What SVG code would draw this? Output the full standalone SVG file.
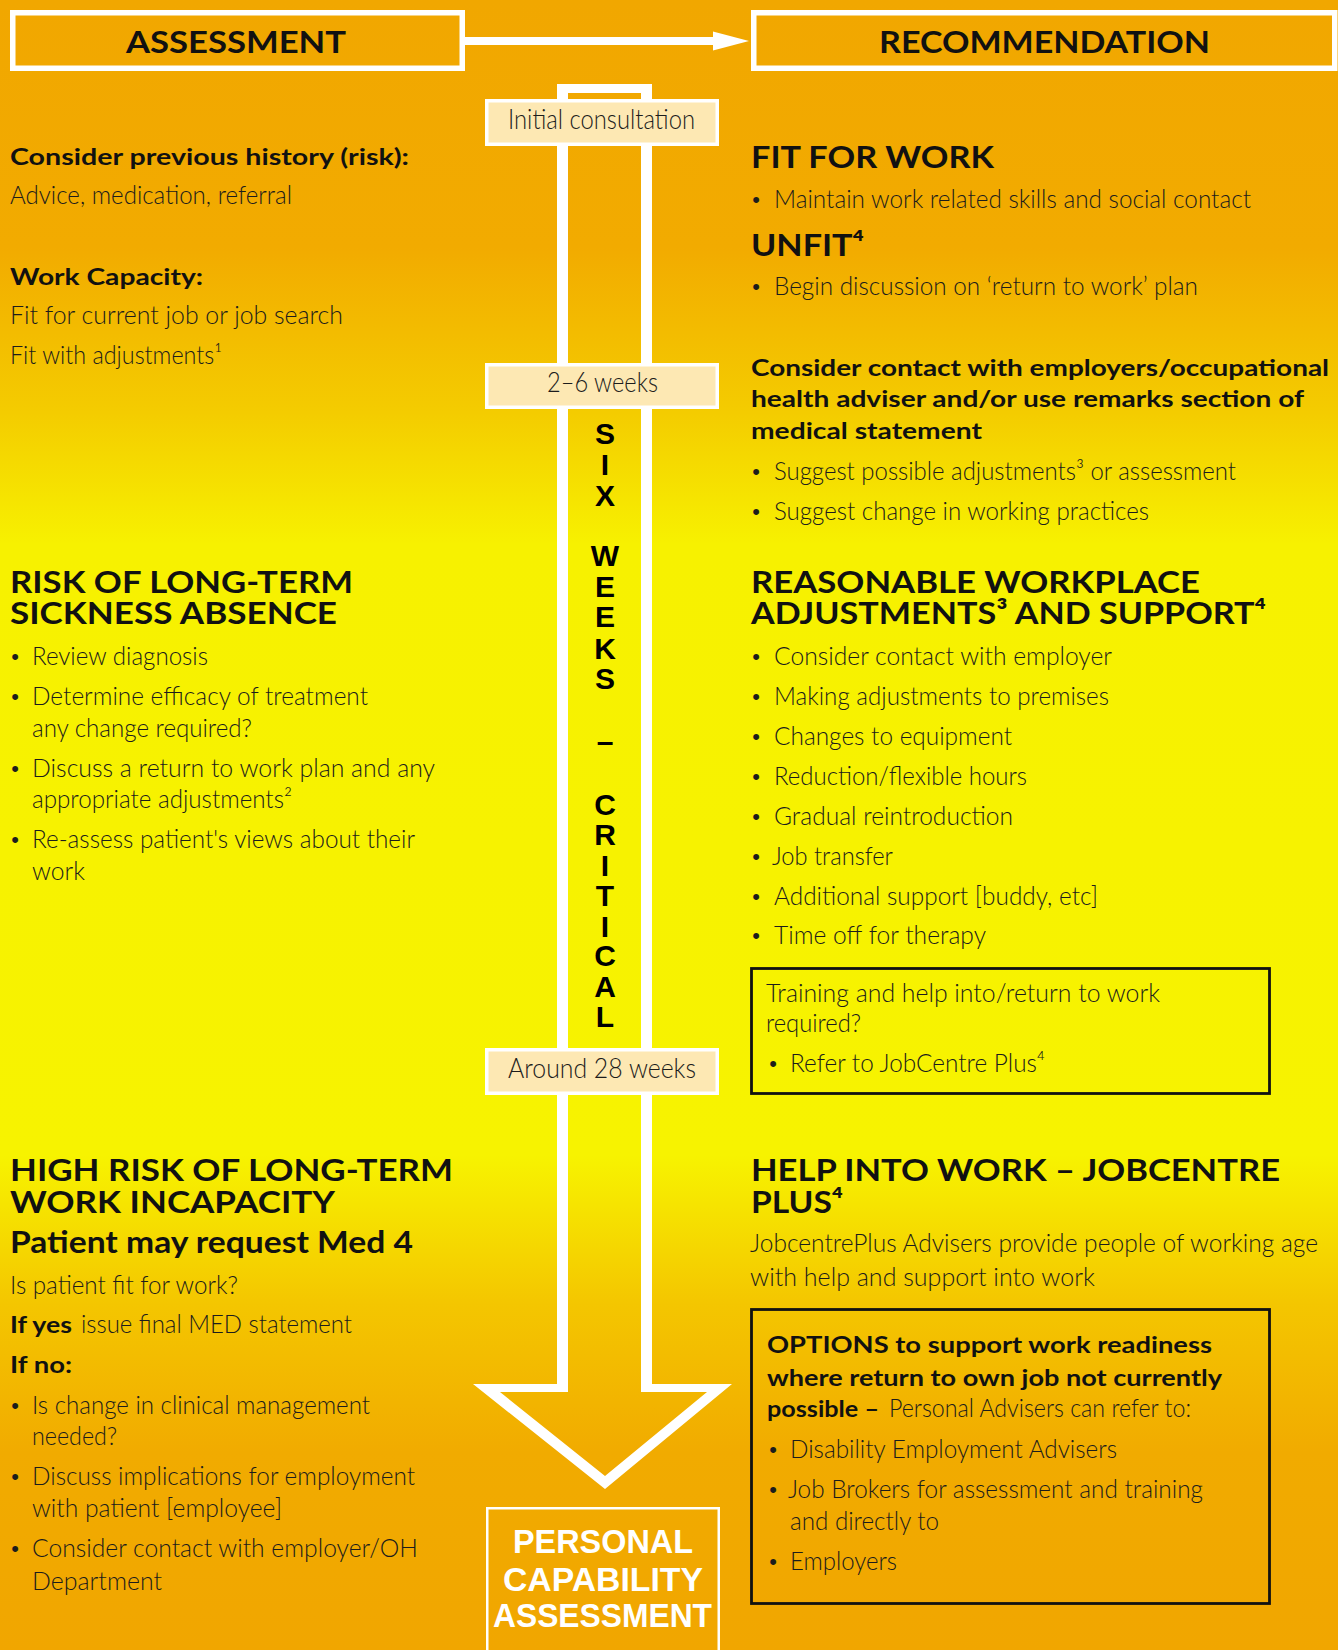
<svg xmlns="http://www.w3.org/2000/svg" width="1338" height="1650" viewBox="0 0 1338 1650">
  <defs>
    <linearGradient id="bg" gradientUnits="userSpaceOnUse" x1="0" y1="0" x2="0" y2="1650">
      <stop offset="0" stop-color="#F1A700"/>
      <stop offset="0.15" stop-color="#F2AB00"/>
      <stop offset="0.25" stop-color="#F4CC00"/>
      <stop offset="0.33" stop-color="#F7F100"/>
      <stop offset="0.70" stop-color="#F7F300"/>
      <stop offset="0.79" stop-color="#F4C600"/>
      <stop offset="0.88" stop-color="#F1AB00"/>
      <stop offset="1" stop-color="#F1A600"/>
    </linearGradient>
    <style>
      .hd { font-family: Lato, "Liberation Sans", sans-serif; font-weight: 700; fill: #111; }
      .h1 { font-size: 31px; }
      .h2 { font-size: 23px; }
      .lt { font-family: Lato, "Liberation Sans", sans-serif; font-weight: 300; font-size: 25px; fill: #1c1c1c; }
      .bul { font-family: "Liberation Sans", sans-serif; font-size: 22px; fill: #1c1c1c; text-anchor: middle; }
      .frame { fill: none; stroke: #fff; }
      .tag { fill: #FDE8B3; stroke: #fff; stroke-width: 3.5; }
      .tagtxt { font-family: Lato, "Liberation Sans", sans-serif; font-weight: 300; font-size: 27px; fill: #1c1c1c; }
      .vert { font-family: "Liberation Sans", Arial, sans-serif; font-weight: 700; font-size: 30px; fill: #000; text-anchor: middle; }
      .pca { font-family: "Liberation Sans", Arial, sans-serif; font-weight: 700; font-size: 33px; fill: #fff; }
      .box { fill: none; stroke: #111; stroke-width: 2.8; }
    </style>
  </defs>

  <!-- page background -->
  <rect x="0" y="0" width="1338" height="1650" fill="url(#bg)"/>

  <!-- connectors -->
  <g id="connectors">
    <!-- header arrow -->
    <rect x="465" y="37" width="252" height="8" fill="#fff"/>
    <polygon points="713,31.5 749,41 713,50.5" fill="#fff"/>
    <!-- timeline arrow: outlined shaft and head -->
    <path fill="#fff" fill-rule="evenodd" d="M557,84 L652,84 L652,1384 L732,1384 L605,1489 L473,1384 L557,1384 Z M568,93 L568,1392 L500,1392 L605,1476 L707,1392 L641,1392 L641,93 Z"/>
  </g>

  <!-- header boxes -->
  <g id="assessment-header">
    <rect class="frame" x="12.75" y="12.75" width="449.5" height="55.5" stroke-width="5.5"/>
    <text class="hd h1" x="126" y="53" textLength="220" lengthAdjust="spacingAndGlyphs">ASSESSMENT</text>
  </g>
  <g id="recommendation-header">
    <rect class="frame" x="753.75" y="12.75" width="581" height="55.5" stroke-width="5.5"/>
    <text class="hd h1" x="879" y="53" textLength="331" lengthAdjust="spacingAndGlyphs">RECOMMENDATION</text>
  </g>

  <!-- timeline markers -->
  <g id="initial-consultation">
    <rect class="tag" x="486.75" y="100.75" width="230.5" height="43.5"/>
    <text class="tagtxt" x="508" y="129" textLength="187" lengthAdjust="spacingAndGlyphs">Initial consultation</text>
  </g>
  <g id="two-six-weeks">
    <rect class="tag" x="486.75" y="364.75" width="230.5" height="42.5"/>
    <text class="tagtxt" x="547" y="392" textLength="111" lengthAdjust="spacingAndGlyphs">2–6 weeks</text>
  </g>
  <g id="six-weeks-critical">
    <text class="vert" x="605" y="444">S</text>
    <text class="vert" x="605" y="475">I</text>
    <text class="vert" x="605" y="506">X</text>
    <text class="vert" x="605" y="566">W</text>
    <text class="vert" x="605" y="597">E</text>
    <text class="vert" x="605" y="627">E</text>
    <text class="vert" x="605" y="659">K</text>
    <text class="vert" x="605" y="689">S</text>
    <text class="vert" x="605" y="752">–</text>
    <text class="vert" x="605" y="815">C</text>
    <text class="vert" x="605" y="845">R</text>
    <text class="vert" x="605" y="876">I</text>
    <text class="vert" x="605" y="906">T</text>
    <text class="vert" x="605" y="937">I</text>
    <text class="vert" x="605" y="966">C</text>
    <text class="vert" x="605" y="997">A</text>
    <text class="vert" x="605" y="1027">L</text>
  </g>
  <g id="around-28-weeks">
    <rect class="tag" x="486.75" y="1049.75" width="230.5" height="43.5"/>
    <text class="tagtxt" x="508" y="1078" textLength="188" lengthAdjust="spacingAndGlyphs">Around 28 weeks</text>
  </g>
  <g id="personal-capability-assessment">
    <rect class="frame" x="487.25" y="1508.25" width="231.5" height="160" stroke-width="2.5"/>
    <text class="pca" x="513" y="1553" textLength="180" lengthAdjust="spacingAndGlyphs">PERSONAL</text>
    <text class="pca" x="503" y="1591" textLength="200" lengthAdjust="spacingAndGlyphs">CAPABILITY</text>
    <text class="pca" x="493" y="1627" textLength="219" lengthAdjust="spacingAndGlyphs">ASSESSMENT</text>
  </g>

  <!-- assessment column -->
  <g id="previous-history">
    <text class="hd h2" x="10" y="165" textLength="399" lengthAdjust="spacingAndGlyphs">Consider previous history (risk):</text>
    <text class="lt" x="10" y="204" textLength="282" lengthAdjust="spacingAndGlyphs">Advice, medication, referral</text>
  </g>
  <g id="work-capacity">
    <text class="hd h2" x="10" y="285" textLength="193" lengthAdjust="spacingAndGlyphs">Work Capacity:</text>
    <text class="lt" x="10" y="324" textLength="333" lengthAdjust="spacingAndGlyphs">Fit for current job or job search</text>
    <text class="lt" x="10" y="364" textLength="212" lengthAdjust="spacingAndGlyphs">Fit with adjustments¹</text>
  </g>
  <g id="risk-sickness-absence">
    <text class="hd h1" x="10" y="593" textLength="343" lengthAdjust="spacingAndGlyphs">RISK OF LONG-TERM</text>
    <text class="hd h1" x="10" y="624" textLength="327" lengthAdjust="spacingAndGlyphs">SICKNESS ABSENCE</text>
    <text class="bul" x="15" y="664">•</text>
    <text class="lt" x="32" y="665" textLength="176" lengthAdjust="spacingAndGlyphs">Review diagnosis</text>
    <text class="bul" x="15" y="704">•</text>
    <text class="lt" x="32" y="705" textLength="336" lengthAdjust="spacingAndGlyphs">Determine efficacy of treatment</text>
    <text class="lt" x="32" y="737" textLength="220" lengthAdjust="spacingAndGlyphs">any change required?</text>
    <text class="bul" x="15" y="776">•</text>
    <text class="lt" x="32" y="777" textLength="403" lengthAdjust="spacingAndGlyphs">Discuss a return to work plan and any</text>
    <text class="lt" x="32" y="808" textLength="260" lengthAdjust="spacingAndGlyphs">appropriate adjustments²</text>
    <text class="bul" x="15" y="847">•</text>
    <text class="lt" x="32" y="848" textLength="383" lengthAdjust="spacingAndGlyphs">Re-assess patient's views about their</text>
    <text class="lt" x="32" y="880" textLength="53" lengthAdjust="spacingAndGlyphs">work</text>
  </g>
  <g id="high-risk-incapacity">
    <text class="hd h1" x="10" y="1181" textLength="443" lengthAdjust="spacingAndGlyphs">HIGH RISK OF LONG-TERM</text>
    <text class="hd h1" x="10" y="1213" textLength="325" lengthAdjust="spacingAndGlyphs">WORK INCAPACITY</text>
    <text class="hd h1" x="10" y="1253" textLength="403" lengthAdjust="spacingAndGlyphs">Patient may request Med 4</text>
    <text class="lt" x="10" y="1294" textLength="228" lengthAdjust="spacingAndGlyphs">Is patient fit for work?</text>
    <text class="hd h2" x="10" y="1333" textLength="62" lengthAdjust="spacingAndGlyphs">If yes</text>
    <text class="lt" x="81" y="1333" textLength="271" lengthAdjust="spacingAndGlyphs">issue final MED statement</text>
    <text class="hd h2" x="10" y="1373" textLength="62" lengthAdjust="spacingAndGlyphs">If no:</text>
    <text class="bul" x="15" y="1413">•</text>
    <text class="lt" x="32" y="1414" textLength="338" lengthAdjust="spacingAndGlyphs">Is change in clinical management</text>
    <text class="lt" x="32" y="1445" textLength="85" lengthAdjust="spacingAndGlyphs">needed?</text>
    <text class="bul" x="15" y="1484">•</text>
    <text class="lt" x="32" y="1485" textLength="383" lengthAdjust="spacingAndGlyphs">Discuss implications for employment</text>
    <text class="lt" x="32" y="1517" textLength="250" lengthAdjust="spacingAndGlyphs">with patient [employee]</text>
    <text class="bul" x="15" y="1556">•</text>
    <text class="lt" x="32" y="1557" textLength="386" lengthAdjust="spacingAndGlyphs">Consider contact with employer/OH</text>
    <text class="lt" x="32" y="1590" textLength="130" lengthAdjust="spacingAndGlyphs">Department</text>
  </g>

  <!-- recommendation column -->
  <g id="fit-for-work">
    <text class="hd h1" x="751" y="168" textLength="243" lengthAdjust="spacingAndGlyphs">FIT FOR WORK</text>
    <text class="bul" x="756" y="207">•</text>
    <text class="lt" x="774" y="208" textLength="477" lengthAdjust="spacingAndGlyphs">Maintain work related skills and social contact</text>
  </g>
  <g id="unfit">
    <text class="hd h1" x="751" y="256" textLength="113" lengthAdjust="spacingAndGlyphs">UNFIT⁴</text>
    <text class="bul" x="756" y="294">•</text>
    <text class="lt" x="774" y="295" textLength="424" lengthAdjust="spacingAndGlyphs">Begin discussion on ‘return to work’ plan</text>
  </g>
  <g id="contact-employers">
    <text class="hd h2" x="751" y="376" textLength="578" lengthAdjust="spacingAndGlyphs">Consider contact with employers/occupational</text>
    <text class="hd h2" x="751" y="407" textLength="553" lengthAdjust="spacingAndGlyphs">health adviser and/or use remarks section of</text>
    <text class="hd h2" x="751" y="439" textLength="231" lengthAdjust="spacingAndGlyphs">medical statement</text>
    <text class="bul" x="756" y="479">•</text>
    <text class="lt" x="774" y="480" textLength="462" lengthAdjust="spacingAndGlyphs">Suggest possible adjustments³ or assessment</text>
    <text class="bul" x="756" y="519">•</text>
    <text class="lt" x="774" y="520" textLength="375" lengthAdjust="spacingAndGlyphs">Suggest change in working practices</text>
  </g>
  <g id="workplace-adjustments">
    <text class="hd h1" x="751" y="593" textLength="449" lengthAdjust="spacingAndGlyphs">REASONABLE WORKPLACE</text>
    <text class="hd h1" x="751" y="624" textLength="515" lengthAdjust="spacingAndGlyphs">ADJUSTMENTS³ AND SUPPORT⁴</text>
    <text class="bul" x="756" y="664">•</text>
    <text class="lt" x="774" y="665" textLength="338" lengthAdjust="spacingAndGlyphs">Consider contact with employer</text>
    <text class="bul" x="756" y="704">•</text>
    <text class="lt" x="774" y="705" textLength="335" lengthAdjust="spacingAndGlyphs">Making adjustments to premises</text>
    <text class="bul" x="756" y="744">•</text>
    <text class="lt" x="774" y="745" textLength="238" lengthAdjust="spacingAndGlyphs">Changes to equipment</text>
    <text class="bul" x="756" y="784">•</text>
    <text class="lt" x="774" y="785" textLength="253" lengthAdjust="spacingAndGlyphs">Reduction/flexible hours</text>
    <text class="bul" x="756" y="824">•</text>
    <text class="lt" x="774" y="825" textLength="239" lengthAdjust="spacingAndGlyphs">Gradual reintroduction</text>
    <text class="bul" x="756" y="864">•</text>
    <text class="lt" x="772" y="865" textLength="121" lengthAdjust="spacingAndGlyphs">Job transfer</text>
    <text class="bul" x="756" y="904">•</text>
    <text class="lt" x="774" y="905" textLength="324" lengthAdjust="spacingAndGlyphs">Additional support [buddy, etc]</text>
    <text class="bul" x="756" y="943">•</text>
    <text class="lt" x="774" y="944" textLength="212" lengthAdjust="spacingAndGlyphs">Time off for therapy</text>
  </g>
  <g id="training-help">
    <rect class="box" x="751.5" y="968.5" width="518" height="125"/>
    <text class="lt" x="766" y="1002" textLength="394" lengthAdjust="spacingAndGlyphs">Training and help into/return to work</text>
    <text class="lt" x="766" y="1032" textLength="95" lengthAdjust="spacingAndGlyphs">required?</text>
    <text class="bul" x="773" y="1071">•</text>
    <text class="lt" x="790" y="1072" textLength="255" lengthAdjust="spacingAndGlyphs">Refer to JobCentre Plus⁴</text>
  </g>
  <g id="help-into-work">
    <text class="hd h1" x="751" y="1181" textLength="529" lengthAdjust="spacingAndGlyphs">HELP INTO WORK – JOBCENTRE</text>
    <text class="hd h1" x="751" y="1213" textLength="92" lengthAdjust="spacingAndGlyphs">PLUS⁴</text>
    <text class="lt" x="750" y="1252" textLength="568" lengthAdjust="spacingAndGlyphs">JobcentrePlus Advisers provide people of working age</text>
    <text class="lt" x="750" y="1286" textLength="345" lengthAdjust="spacingAndGlyphs">with help and support into work</text>
  </g>
  <g id="work-readiness-options">
    <rect class="box" x="751.5" y="1309.5" width="518" height="294"/>
    <text class="hd h2" x="767" y="1353" textLength="445" lengthAdjust="spacingAndGlyphs">OPTIONS to support work readiness</text>
    <text class="hd h2" x="767" y="1386" textLength="455" lengthAdjust="spacingAndGlyphs">where return to own job not currently</text>
    <text class="hd h2" x="767" y="1417" textLength="112" lengthAdjust="spacingAndGlyphs">possible –</text>
    <text class="lt" x="889" y="1417" textLength="302" lengthAdjust="spacingAndGlyphs">Personal Advisers can refer to:</text>
    <text class="bul" x="773" y="1457">•</text>
    <text class="lt" x="790" y="1458" textLength="327" lengthAdjust="spacingAndGlyphs">Disability Employment Advisers</text>
    <text class="bul" x="773" y="1497">•</text>
    <text class="lt" x="788" y="1498" textLength="415" lengthAdjust="spacingAndGlyphs">Job Brokers for assessment and training</text>
    <text class="lt" x="790" y="1530" textLength="149" lengthAdjust="spacingAndGlyphs">and directly to</text>
    <text class="bul" x="773" y="1569">•</text>
    <text class="lt" x="790" y="1570" textLength="107" lengthAdjust="spacingAndGlyphs">Employers</text>
  </g>
</svg>
